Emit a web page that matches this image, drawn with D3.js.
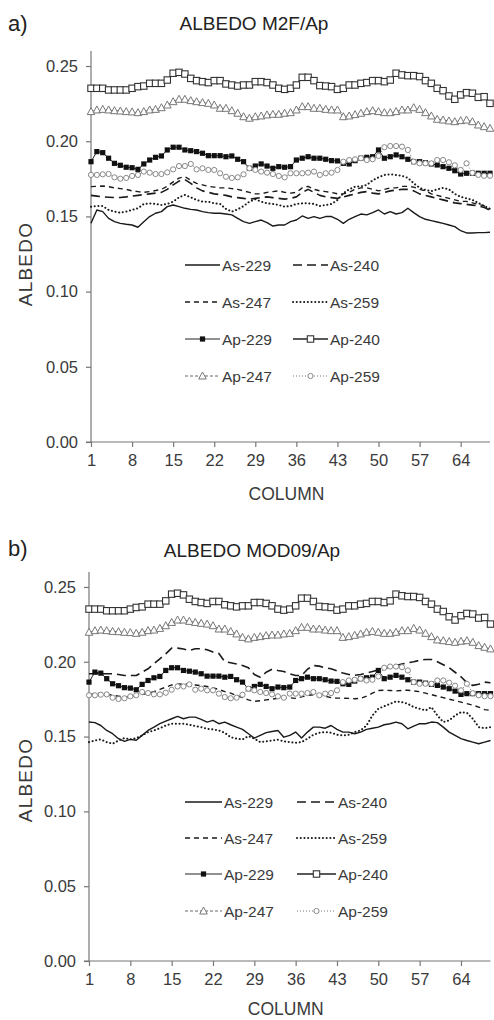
<!DOCTYPE html>
<html><head><meta charset="utf-8">
<script src="https://cdn.jsdelivr.net/npm/d3@7/dist/d3.min.js"></script>
<style>
html,body{margin:0;padding:0;background:#fff;}
svg{display:block;font-family:"Liberation Sans",Arial,sans-serif;}
</style></head>
<body>
<svg id="chart" width="494" height="1020"></svg>
<script>
// ---------- DATA ----------
const columns = [1,2,3,4,5,6,7,8,9,10,11,12,13,14,15,16,17,18,19,20,21,22,23,24,25,26,27,28,29,30,31,32,33,34,35,36,37,38,39,40,41,42,43,44,45,46,47,48,49,50,51,52,53,54,55,56,57,58,59,60,61,62,63,64,65,66,67,68,69];
const xTickLabels = [1,8,15,22,29,36,43,50,57,64];
const yTickValues = [0,0.05,0.10,0.15,0.20,0.25];
const seriesNames = ["As-229","As-240","As-247","As-259","Ap-229","Ap-240","Ap-247","Ap-259"];

// Ap series (same in both panels)
const ap229 = [.1864,.1931,.1924,.1887,.1853,.1840,.1827,.1824,.1813,.1849,.1875,.1893,.1902,.1942,.1960,.1960,.1942,.1937,.1931,.1920,.1904,.1904,.1904,.1897,.1902,.1880,.1864,.1820,.1835,.1849,.1835,.1820,.1831,.1827,.1831,.1875,.1887,.1897,.1887,.1887,.1880,.1871,.1869,.1853,.1849,.1871,.1887,.1893,.1897,.1942,.1887,.1897,.1909,.1897,.1880,.1864,.1864,.1857,.1849,.1842,.1831,.1820,.1804,.1782,.1787,.1787,.1787,.1787,.1787];
const ap240 = [.2352,.2352,.2352,.2341,.2341,.2341,.2341,.2352,.2363,.2367,.2385,.2385,.2385,.2407,.2452,.2458,.2447,.2418,.2403,.2396,.2390,.2403,.2403,.2381,.2374,.2367,.2374,.2374,.2396,.2396,.2390,.2374,.2352,.2345,.2352,.2374,.2425,.2425,.2403,.2370,.2367,.2363,.2345,.2352,.2374,.2374,.2385,.2390,.2403,.2403,.2396,.2407,.2452,.2441,.2436,.2436,.2430,.2403,.2385,.2352,.2336,.2301,.2279,.2308,.2323,.2319,.2292,.2296,.2252];
const ap247 = [.2197,.2208,.2212,.2208,.2203,.2201,.2197,.2195,.2190,.2197,.2208,.2212,.2223,.2241,.2263,.2279,.2279,.2270,.2263,.2257,.2252,.2241,.2219,.2219,.2203,.2186,.2163,.2153,.2163,.2168,.2175,.2179,.2179,.2186,.2190,.2208,.2230,.2230,.2219,.2219,.2212,.2208,.2208,.2163,.2168,.2177,.2186,.2197,.2203,.2197,.2190,.2190,.2197,.2208,.2208,.2223,.2212,.2190,.2168,.2146,.2141,.2135,.2130,.2137,.2141,.2130,.2108,.2097,.2086];
const ap259 = [.1776,.1776,.1780,.1782,.1760,.1751,.1756,.1769,.1776,.1798,.1791,.1782,.1782,.1793,.1813,.1835,.1835,.1849,.1813,.1820,.1809,.1809,.1787,.1764,.1756,.1760,.1780,.1820,.1809,.1798,.1791,.1782,.1769,.1760,.1787,.1787,.1787,.1791,.1798,.1776,.1787,.1791,.1809,.1864,.1875,.1880,.1887,.1875,.1880,.1902,.1960,.1968,.1968,.1964,.1942,.1864,.1853,.1853,.1853,.1875,.1875,.1860,.1840,.1809,.1853,.1790,.1776,.1770,.1770];

// As series, panel a (M2F)
const asM2F229 = [.1454,.1543,.1532,.1487,.1465,.1454,.1448,.1443,.1428,.1465,.1499,.1521,.1532,.1565,.1576,.1565,.1554,.1547,.1543,.1532,.1525,.1521,.1521,.1516,.1510,.1487,.1465,.1454,.1465,.1476,.1459,.1436,.1443,.1443,.1465,.1476,.1503,.1487,.1499,.1487,.1499,.1499,.1481,.1454,.1481,.1499,.1516,.1510,.1525,.1543,.1516,.1532,.1516,.1525,.1554,.1525,.1499,.1481,.1472,.1463,.1454,.1443,.1432,.1405,.1390,.1390,.1392,.1392,.1395];
const asM2F240 = [.1640,.1635,.1630,.1628,.1626,.1626,.1630,.1635,.1640,.1645,.1650,.1655,.1660,.1680,.1710,.1735,.1745,.1720,.1690,.1670,.1660,.1650,.1645,.1640,.1630,.1625,.1620,.1615,.1620,.1625,.1630,.1625,.1620,.1615,.1620,.1630,.1660,.1680,.1660,.1640,.1630,.1625,.1620,.1630,.1640,.1650,.1660,.1665,.1655,.1650,.1660,.1670,.1675,.1680,.1680,.1670,.1650,.1640,.1630,.1620,.1610,.1600,.1590,.1585,.1580,.1575,.1570,.1560,.1540];
const asM2F247 = [.1698,.1700,.1702,.1698,.1690,.1685,.1680,.1670,.1665,.1660,.1665,.1672,.1680,.1700,.1730,.1755,.1765,.1740,.1720,.1710,.1700,.1695,.1690,.1690,.1685,.1680,.1670,.1660,.1650,.1650,.1660,.1665,.1670,.1660,.1655,.1660,.1690,.1700,.1680,.1670,.1665,.1660,.1650,.1650,.1660,.1680,.1690,.1690,.1680,.1670,.1680,.1690,.1690,.1700,.1700,.1695,.1680,.1670,.1650,.1640,.1630,.1620,.1610,.1600,.1600,.1590,.1580,.1570,.1550];
const asM2F259 = [.1565,.1569,.1569,.1543,.1532,.1525,.1532,.1543,.1554,.1583,.1587,.1583,.1576,.1583,.1598,.1627,.1643,.1627,.1609,.1598,.1598,.1587,.1583,.1550,.1532,.1547,.1569,.1598,.1614,.1598,.1587,.1583,.1576,.1565,.1569,.1583,.1587,.1587,.1583,.1569,.1576,.1583,.1609,.1654,.1680,.1698,.1700,.1709,.1740,.1760,.1776,.1780,.1776,.1770,.1756,.1720,.1690,.1676,.1668,.1680,.1690,.1680,.1650,.1630,.1620,.1610,.1590,.1570,.1550];

// As series, panel b (MOD09)
const asMOD229 = [.1597,.1593,.1574,.1541,.1519,.1486,.1468,.1481,.1475,.1508,.1541,.1563,.1586,.1603,.1619,.1635,.1619,.1630,.1630,.1615,.1597,.1608,.1586,.1597,.1579,.1563,.1548,.1519,.1490,.1508,.1526,.1534,.1541,.1496,.1508,.1530,.1490,.1530,.1563,.1563,.1556,.1574,.1548,.1530,.1530,.1519,.1530,.1548,.1556,.1563,.1579,.1586,.1597,.1586,.1552,.1570,.1586,.1586,.1597,.1593,.1563,.1530,.1508,.1486,.1474,.1463,.1452,.1463,.1474];
const asMOD240 = [.1920,.1920,.1920,.1920,.1920,.1915,.1908,.1908,.1908,.1930,.1953,.1987,.2020,.2053,.2091,.2091,.2085,.2076,.2087,.2087,.2080,.2065,.2055,.2000,.1993,.1985,.1975,.1960,.1915,.1897,.1930,.1950,.1942,.1935,.1920,.1908,.1908,.1950,.1975,.1971,.1960,.1953,.1940,.1925,.1915,.1910,.1915,.1925,.1935,.1945,.1955,.1965,.1975,.1985,.1993,.2000,.2010,.2015,.2015,.2000,.1980,.1960,.1930,.1900,.1860,.1842,.1850,.1864,.1860];
const asMOD247 = [.1780,.1785,.1790,.1785,.1775,.1770,.1765,.1765,.1770,.1780,.1790,.1800,.1815,.1830,.1845,.1850,.1852,.1850,.1845,.1840,.1835,.1825,.1815,.1800,.1790,.1775,.1760,.1745,.1735,.1740,.1745,.1750,.1755,.1760,.1760,.1755,.1765,.1775,.1780,.1775,.1770,.1760,.1757,.1757,.1755,.1753,.1755,.1770,.1790,.1808,.1810,.1808,.1805,.1808,.1810,.1805,.1800,.1790,.1780,.1770,.1760,.1750,.1740,.1730,.1720,.1710,.1697,.1680,.1675];
const asMOD259 = [.1463,.1474,.1481,.1463,.1452,.1474,.1490,.1481,.1490,.1508,.1530,.1541,.1556,.1574,.1586,.1586,.1586,.1579,.1570,.1563,.1552,.1548,.1541,.1525,.1496,.1486,.1481,.1503,.1486,.1463,.1468,.1474,.1479,.1468,.1463,.1459,.1463,.1486,.1512,.1526,.1530,.1526,.1512,.1508,.1512,.1530,.1541,.1574,.1641,.1686,.1703,.1719,.1735,.1730,.1719,.1697,.1686,.1675,.1697,.1641,.1597,.1608,.1641,.1663,.1659,.1619,.1563,.1556,.1563];

// ---------- STYLES ----------
const styles = {
  "As-229": {stroke:"#1a1a1a", width:1.4, dash:null},
  "As-240": {stroke:"#1a1a1a", width:1.6, dash:"9,5"},
  "As-247": {stroke:"#1a1a1a", width:1.4, dash:"5,4"},
  "As-259": {stroke:"#1a1a1a", width:2, dash:"0.1,3.6", cap:"round"},
  "Ap-229": {stroke:"#222", width:1, dash:null, marker:"fsquare"},
  "Ap-240": {stroke:"#222", width:1.4, dash:null, marker:"osquare"},
  "Ap-247": {stroke:"#666", width:1, dash:"3,2", marker:"triangle"},
  "Ap-259": {stroke:"#777", width:1, dash:"1,2", marker:"circle"}
};

const svg = d3.select("#chart");
const txt = "#3a3a3a";

function drawMarker(g, type, x, y) {
  if (type === "fsquare") {
    g.append("rect").attr("x", x-2.6).attr("y", y-2.6).attr("width", 5.2).attr("height", 5.2).attr("fill", "#111");
  } else if (type === "osquare") {
    g.append("rect").attr("x", x-3.2).attr("y", y-3.2).attr("width", 6.4).attr("height", 6.4)
      .attr("fill", "#fff").attr("stroke", "#333").attr("stroke-width", 1.1);
  } else if (type === "triangle") {
    g.append("path").attr("d", `M${x},${y-4}L${x+3.8},${y+3}L${x-3.8},${y+3}Z`)
      .attr("fill", "#fff").attr("stroke", "#777").attr("stroke-width", 1);
  } else if (type === "circle") {
    g.append("circle").attr("cx", x).attr("cy", y).attr("r", 2.6)
      .attr("fill", "#fff").attr("stroke", "#888").attr("stroke-width", 1);
  }
}

function drawPanel(p) {
  const x = d3.scaleLinear().domain([1, 69]).range([p.x0, p.x1]);
  const y = d3.scaleLinear().domain([0, 0.26]).range([p.y0, p.yTop]);
  const g = svg.append("g");

  // Titles
  g.append("text").attr("x", 8).attr("y", p.labelY).attr("font-size", 22).attr("fill", "#222").text(p.letter);
  g.append("text").attr("x", p.titleX).attr("y", p.titleY).attr("text-anchor", "middle")
    .attr("font-size", 19).attr("fill", "#222").text(p.title);

  // Axes
  const yAxis = d3.axisLeft(y).tickValues(yTickValues).tickFormat(d3.format(".2f")).tickSize(5).tickPadding(8);
  const ya = g.append("g").attr("transform", `translate(${p.x0},0)`).call(yAxis);
  const xAxis = d3.axisBottom(x).tickValues(xTickLabels).tickFormat(d3.format("d")).tickSize(5).tickPadding(7);
  const xa = g.append("g").attr("transform", `translate(0,${p.y0})`).call(xAxis);
  [ya, xa].forEach(a => {
    a.select(".domain").attr("stroke", "#777").attr("stroke-width", 1.2);
    a.selectAll(".tick line").attr("stroke", "#777").attr("stroke-width", 1.2);
    a.selectAll("text").attr("font-size", 16.5).attr("fill", txt).attr("font-family", "Liberation Sans, Arial, sans-serif");
  });
  ya.select(".domain").attr("d", `M0,${p.yTop}V${p.y0}`);
  xa.select(".domain").attr("d", `M${p.x0 - 5},0H${p.x1}`);

  // Axis labels
  g.append("text").attr("x", (p.x0 + p.x1) / 2 - 4).attr("y", p.xLabelY).attr("text-anchor", "middle")
    .attr("font-size", 17.5).attr("fill", txt).text("COLUMN");
  g.append("text").attr("transform", `translate(32,${p.yLabelY}) rotate(-90)`).attr("text-anchor", "middle")
    .attr("font-size", 19).attr("letter-spacing", 1.2).attr("fill", txt).text("ALBEDO");

  // Series
  const line = d3.line().x((d, i) => x(columns[i])).y(d => y(d));
  p.series.forEach(([name, data]) => {
    const s = styles[name];
    g.append("path").attr("d", line(data)).attr("fill", "none").attr("stroke", s.stroke)
      .attr("stroke-width", s.width).attr("stroke-dasharray", s.dash)
      .attr("stroke-linecap", s.cap || "butt").attr("stroke-linejoin", "round");
    if (s.marker) {
      const mg = g.append("g");
      data.forEach((v, i) => drawMarker(mg, s.marker, x(columns[i]), y(v)));
    }
  });

  // Legend
  const lg = g.append("g");
  seriesNames.forEach((name, i) => {
    const col = i % 2, row = Math.floor(i / 2);
    const lx1 = p.leg.cols[col][0], lx2 = p.leg.cols[col][1];
    const ly = p.leg.rows[row];
    const s = styles[name];
    lg.append("line").attr("x1", lx1).attr("x2", lx2).attr("y1", ly).attr("y2", ly)
      .attr("stroke", s.stroke).attr("stroke-width", s.width).attr("stroke-dasharray", s.dash)
      .attr("stroke-linecap", s.cap || "butt");
    if (s.marker) drawMarker(lg, s.marker, (lx1 + lx2) / 2, ly);
    lg.append("text").attr("x", lx2 + 2).attr("y", ly + 5.5).attr("font-size", 15.5).attr("fill", txt).text(name);
  });
}

drawPanel({
  letter: "a)", labelY: 31, title: "ALBEDO M2F/Ap", titleX: 254, titleY: 30,
  x0: 91, x1: 490, y0: 442, yTop: 51, xLabelY: 500, yLabelY: 264,
  series: [["As-229", asM2F229], ["As-240", asM2F240], ["As-247", asM2F247], ["As-259", asM2F259],
           ["Ap-229", ap229], ["Ap-240", ap240], ["Ap-247", ap247], ["Ap-259", ap259]],
  leg: {cols: [[185, 220], [293, 328]], rows: [265, 302, 339, 376]}
});

drawPanel({
  letter: "b)", labelY: 556, title: "ALBEDO MOD09/Ap", titleX: 252, titleY: 557,
  x0: 89, x1: 490.5, y0: 961, yTop: 572, xLabelY: 1015, yLabelY: 780,
  series: [["As-229", asMOD229], ["As-240", asMOD240], ["As-247", asMOD247], ["As-259", asMOD259],
           ["Ap-229", ap229], ["Ap-240", ap240], ["Ap-247", ap247], ["Ap-259", ap259]],
  leg: {cols: [[185, 222], [297, 336]], rows: [802, 838, 874, 911]}
});
</script>
</body></html>
